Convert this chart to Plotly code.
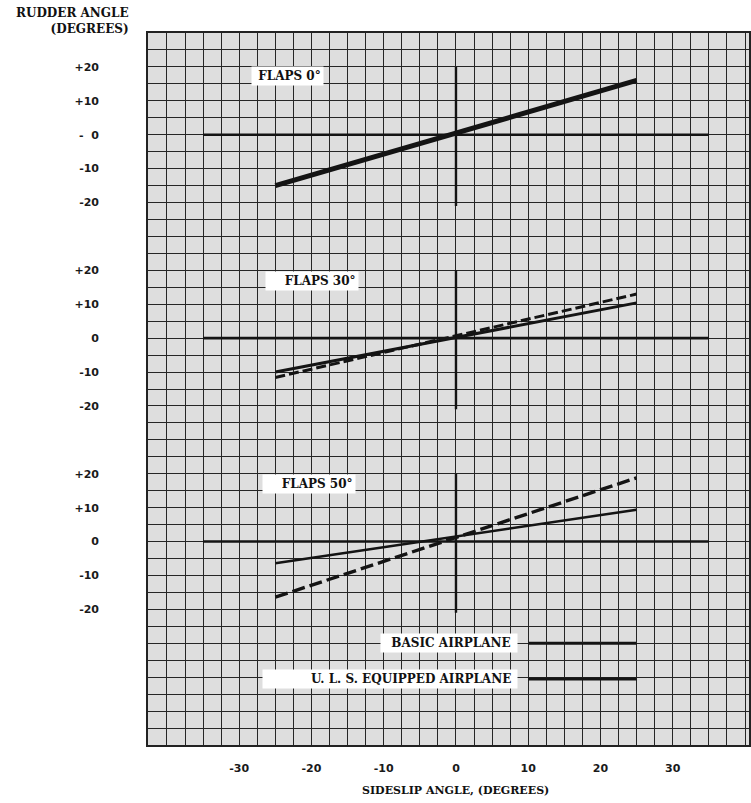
import plotly.graph_objects as go

# ---------------- data ----------------
sideslip = [-25, 25]
flaps0_rudder = [-15.0, 16.0]
flaps30_basic = [-10.0, 10.4]
flaps30_uls = [-11.6, 13.0]
flaps50_basic = [-6.4, 9.4]
flaps50_uls = [-16.4, 18.8]

x_tickvals = [-30, -20, -10, 0, 10, 20, 30]
x_ticktext = ["-30", "-20", "-10", "0", "10", "20", "30"]
y_tickvals = [20, 10, 0, -10, -20]
y_ticktext_top = ["+20", "+10", "-  0", "-10", "-20"]
y_ticktext = ["+20", "+10", "0", "-10", "-20"]
panel_titles = ["FLAPS 0°", "FLAPS 30°", "FLAPS 50°"]
legend_names = ["BASIC AIRPLANE", "U. L. S. EQUIPPED AIRPLANE"]

# reference axes drawn on the graph paper
axis_x = [-35, 35]
axis_y = [0, 0]
vline_x = [0, 0]
vline_y = [20, -21]
legend_line_x = [10, 25]
legend_line_y = [-150, -160.5]

# ---------------- style ----------------
INK = "#141414"
GRID = "#262626"
PAPER = "#dedede"
SERIF = "DejaVu Serif"
SANS = "DejaVu Sans"

fig = go.Figure()

panels = [("y2", [(flaps0_rudder, "solid", 5)]),
          ("y3", [(flaps30_basic, "solid", 3), (flaps30_uls, "10px,4px", 3)]),
          ("y4", [(flaps50_basic, "solid", 2.6), (flaps50_uls, "13px,5px", 3.4)])]

for yref, series in panels:
    fig.add_trace(go.Scatter(x=axis_x, y=axis_y, mode="lines", yaxis=yref,
                             line=dict(color=INK, width=2.6), showlegend=False, hoverinfo="skip"))
    fig.add_trace(go.Scatter(x=vline_x, y=vline_y, mode="lines", yaxis=yref,
                             line=dict(color=INK, width=2.4), showlegend=False, hoverinfo="skip"))
    for vals, dash, w in series:
        fig.add_trace(go.Scatter(x=sideslip, y=vals, mode="lines", yaxis=yref,
                                 line=dict(color=INK, width=w, dash=dash), showlegend=False))

for ly in legend_line_y:
    fig.add_trace(go.Scatter(x=legend_line_x, y=[ly, ly], mode="lines", yaxis="y",
                             line=dict(color=INK, width=3), showlegend=False, hoverinfo="skip"))

# ---------------- layout ----------------
tickfont = dict(family=SANS, size=11, color="#1a1a1a", weight="bold")
bg_range = [-180, 30]
span = bg_range[1] - bg_range[0]


def dom(center):
    return [(center - 30 - bg_range[0]) / span, (center + 30 - bg_range[0]) / span]


ylab = dict(range=[-30, 30], anchor="x", tickmode="array", tickvals=y_tickvals,
            showgrid=False, zeroline=False, showline=False, ticks="",
            ticklabelstandoff=48, tickfont=dict(family=SANS, size=11, color="#1a1a1a", weight="bold"))

fig.update_layout(
    width=751, height=803,
    margin=dict(l=148, r=0, t=33, b=58),
    paper_bgcolor="white",
    plot_bgcolor="rgba(0,0,0,0)",
    showlegend=False,
    shapes=[dict(type="rect", xref="paper", yref="paper", x0=0, x1=1, y0=0, y1=1,
                 fillcolor=PAPER, line=dict(width=0), layer="below")],
    xaxis=dict(range=[-42.62, 40.55], domain=[0, 1], tickmode="array",
               tickvals=x_tickvals, ticktext=x_ticktext,
               showgrid=True, gridcolor=GRID, gridwidth=1.3,
               minor=dict(tickmode="linear", tick0=0, dtick=2.5, showgrid=True,
                          gridcolor=GRID, gridwidth=1.3, ticks=""),
               zeroline=False, showline=True, mirror=True, linecolor="#222", linewidth=1.6,
               ticks="", ticklabelstandoff=12, tickfont=tickfont),
    yaxis=dict(range=bg_range, domain=[0, 1], tickmode="linear", tick0=0, dtick=5,
               showgrid=True, gridcolor=GRID, gridwidth=1.3, showticklabels=False,
               zeroline=False, showline=True, mirror=True, linecolor="#222", linewidth=1.6, ticks=""),
    yaxis2=dict(domain=dom(0), ticktext=y_ticktext_top, **ylab),
    yaxis3=dict(domain=dom(-60), ticktext=y_ticktext, **ylab),
    yaxis4=dict(domain=dom(-120), ticktext=y_ticktext, **ylab),
)

title_font = dict(family=SERIF, size=12, color="#111", weight="bold")
ann = []
title_pos = [("y2", -18.3, 17.4, "\u00a0"), ("y3", -13.4, 16.8, "\u00a0\u00a0\u00a0\u00a0"),
             ("y4", -13.9, 17.1, "\u00a0\u00a0\u00a0\u00a0")]
for (yref, xx, yy, pad), txt in zip(title_pos, panel_titles):
    ann.append(dict(x=xx, y=yy, xref="x", yref=yref, text=pad + txt, showarrow=False,
                    xanchor="right", yanchor="middle", bgcolor="white", borderpad=2,
                    font=title_font))

legend_pads = ["\u00a0\u00a0", "\u00a0" * 11]
for ly, name, pad in zip(legend_line_y, legend_names, legend_pads):
    ann.append(dict(x=8.6, y=ly, xref="x", yref="y", text=pad + name + "\u00a0", showarrow=False,
                    xanchor="right", yanchor="middle", bgcolor="white", borderpad=2,
                    font=title_font))

ann.append(dict(x=0, y=1, xref="paper", yref="paper", xshift=-17, yshift=-5,
                xanchor="right", yanchor="bottom", align="right", showarrow=False,
                text="RUDDER ANGLE<br>(DEGREES)",
                font=dict(family=SERIF, size=12, color="#111", weight="bold")))
ann.append(dict(x=0, y=0, xref="x", yref="paper", yshift=-45, xanchor="center",
                yanchor="middle", showarrow=False, text="SIDESLIP ANGLE, (DEGREES)",
                font=dict(family=SERIF, size=11, color="#111", weight="bold")))

fig.update_layout(annotations=ann)
fig.write_html("out.html")
